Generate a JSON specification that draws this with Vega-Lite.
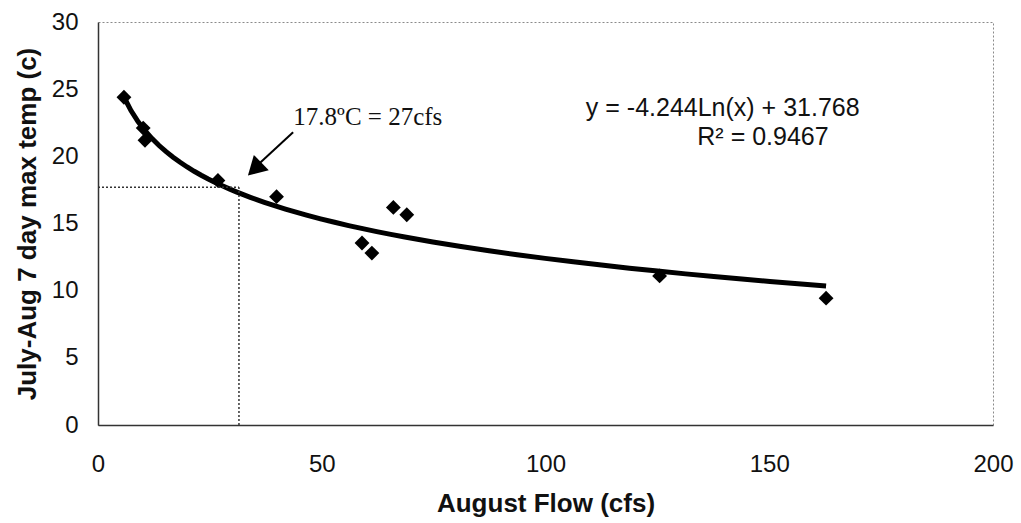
{
  "$schema": "https://vega.github.io/schema/vega-lite/v6.json",
  "autosize": {"type": "none"},
  "padding": {"left": 98, "top": 22, "right": 28, "bottom": 98},
  "width": 895,
  "height": 403,
  "background": "white",
  "config": {
    "view": {"stroke": "#8a8a8a", "strokeDash": [2, 2], "strokeWidth": 1},
    "axis": {
      "grid": false,
      "ticks": false,
      "labelFlush": false,
      "labelFont": "Liberation Sans",
      "labelFontSize": 24,
      "labelColor": "#111",
      "titleFont": "Liberation Sans",
      "titleFontSize": 26,
      "titleFontWeight": "bold",
      "titleColor": "#111",
      "domainColor": "#333",
      "domainWidth": 1.5
    }
  },
  "datasets": {
    "obs": [
      {"flow": 5.8, "temp": 24.4},
      {"flow": 10.1, "temp": 22.1},
      {"flow": 10.5, "temp": 21.2},
      {"flow": 26.8, "temp": 18.2},
      {"flow": 39.9, "temp": 17.0},
      {"flow": 59.0, "temp": 13.55},
      {"flow": 61.2, "temp": 12.8},
      {"flow": 66.0, "temp": 16.2},
      {"flow": 69.0, "temp": 15.65},
      {"flow": 125.5, "temp": 11.1},
      {"flow": 162.7, "temp": 9.44}
    ],
    "one": [{}]
  },
  "layer": [
    {
      "data": {"name": "obs"},
      "transform": [{"regression": "temp", "on": "flow", "method": "log"}],
      "mark": {"type": "line", "color": "black", "strokeWidth": 5},
      "encoding": {
        "x": {"field": "flow", "type": "quantitative", "title": "August Flow (cfs)",
              "scale": {"domain": [0, 200], "nice": false},
              "axis": {"values": [0, 50, 100, 150, 200], "labelPadding": 27, "titlePadding": 14}},
        "y": {"field": "temp", "type": "quantitative", "title": "July-Aug 7 day max temp (c)",
              "scale": {"domain": [0, 30], "nice": false},
              "axis": {"values": [0, 5, 10, 15, 20, 25, 30], "labelPadding": 20, "titlePadding": 11}}
      }
    },
    {
      "data": {"name": "obs"},
      "mark": {"type": "point", "shape": "diamond", "filled": true, "color": "black", "opacity": 1, "size": 220},
      "encoding": {
        "x": {"field": "flow", "type": "quantitative"},
        "y": {"field": "temp", "type": "quantitative"}
      }
    },
    {
      "data": {"name": "one"},
      "mark": {"type": "rule", "color": "#333", "strokeWidth": 1.5, "strokeDash": [2, 2]},
      "encoding": {
        "x": {"datum": 0, "type": "quantitative"},
        "x2": {"datum": 31.5},
        "y": {"datum": 17.7, "type": "quantitative"},
        "y2": {"datum": 17.7}
      }
    },
    {
      "data": {"name": "one"},
      "mark": {"type": "rule", "color": "#333", "strokeWidth": 1.5, "strokeDash": [2, 2]},
      "encoding": {
        "x": {"datum": 31.5, "type": "quantitative"},
        "x2": {"datum": 31.5},
        "y": {"datum": 0, "type": "quantitative"},
        "y2": {"datum": 17.7}
      }
    },
    {
      "data": {"name": "one"},
      "mark": {"type": "rule", "color": "black", "strokeWidth": 2},
      "encoding": {
        "x": {"datum": 43.6, "type": "quantitative"},
        "x2": {"datum": 35.5},
        "y": {"datum": 21.8, "type": "quantitative"},
        "y2": {"datum": 19.3}
      }
    },
    {
      "data": {"name": "one"},
      "mark": {"type": "point", "shape": "triangle-up", "filled": true, "color": "black", "opacity": 1, "size": 460, "angle": 226},
      "encoding": {
        "x": {"datum": 35.0, "type": "quantitative"},
        "y": {"datum": 19.05, "type": "quantitative"}
      }
    },
    {
      "data": {"name": "one"},
      "mark": {"type": "text", "font": "Liberation Serif", "fontSize": 25, "color": "#111", "align": "center", "baseline": "middle", "text": "17.8ºC = 27cfs"},
      "encoding": {
        "x": {"datum": 60.3, "type": "quantitative"},
        "y": {"datum": 22.9, "type": "quantitative"}
      }
    },
    {
      "data": {"name": "one"},
      "mark": {"type": "text", "font": "Liberation Sans", "fontSize": 25, "color": "#111", "align": "center", "baseline": "middle", "text": "y = -4.244Ln(x) + 31.768"},
      "encoding": {
        "x": {"datum": 139.6, "type": "quantitative"},
        "y": {"datum": 23.6, "type": "quantitative"}
      }
    },
    {
      "data": {"name": "one"},
      "mark": {"type": "text", "font": "Liberation Sans", "fontSize": 25, "color": "#111", "align": "center", "baseline": "middle", "text": "R² = 0.9467"},
      "encoding": {
        "x": {"datum": 148.6, "type": "quantitative"},
        "y": {"datum": 21.46, "type": "quantitative"}
      }
    }
  ]
}
